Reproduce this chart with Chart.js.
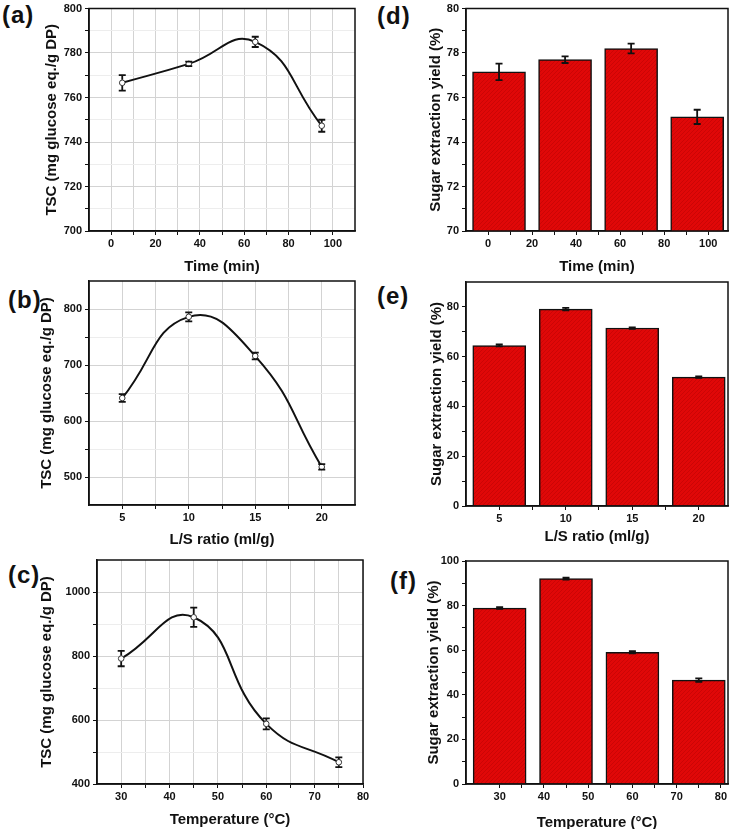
<!DOCTYPE html>
<html>
<head>
<meta charset="utf-8">
<title>TSC and sugar extraction yield</title>
<script src="https://cdn.jsdelivr.net/npm/chart.js@4.4.0/dist/chart.umd.min.js"></script>
<style>
  body { margin:0; width:734px; height:829px; overflow:hidden; background:#fff; position:relative; font-family:"Liberation Sans", Arial, sans-serif; }
  canvas { position:absolute; }
  .lbl { position:absolute; font-weight:bold; font-size:24px; line-height:1; color:#111; letter-spacing:1px; }
</style>
</head>
<body>
<div class="lbl" style="left:2px;top:3px">(a)</div>
<div class="lbl" style="left:8px;top:288px">(b)</div>
<div class="lbl" style="left:8px;top:563px">(c)</div>
<div class="lbl" style="left:377px;top:4px">(d)</div>
<div class="lbl" style="left:377px;top:284px">(e)</div>
<div class="lbl" style="left:390px;top:569px">(f)</div>

<canvas id="ca" width="375" height="278" style="left:0;top:0"></canvas>
<canvas id="cb" width="375" height="282" style="left:0;top:272px"></canvas>
<canvas id="cc" width="378" height="288" style="left:0;top:548px"></canvas>
<canvas id="cd" width="354" height="278" style="left:380px;top:0"></canvas>
<canvas id="ce" width="354" height="282" style="left:380px;top:272px"></canvas>
<canvas id="cf" width="354" height="288" style="left:380px;top:548px"></canvas>

<script>
// ---- data ----
// (a) TSC vs time
const aX = [5, 35, 65, 95];
const aY = [766.6, 775.1, 785.0, 747.3];
const aErr = [3.5, 1.0, 2.3, 2.7];
// (b) TSC vs L/S ratio
const bX = [5, 10, 15, 20];
const bY = [641, 786, 716, 518];
const bErr = [7, 8, 6, 5];
// (c) TSC vs temperature
const cX = [30, 45, 60, 75];
const cY = [792, 921, 588, 468];
const cErr = [24, 30, 17, 15];
// (d) yield vs time
const dX = [5, 35, 65, 95];
const dY = [77.15, 77.7, 78.2, 75.13];
const dErr = [0.37, 0.15, 0.22, 0.32];
// (e) yield vs L/S ratio
const eX = [5, 10, 15, 20];
const eY = [64.5, 79.1, 71.5, 51.8];
const eErr = [0.4, 0.5, 0.3, 0.3];
// (f) yield vs temperature
const fX = [30, 45, 60, 75];
const fY = [78.9, 92.1, 59.1, 46.6];
const fErr = [0.4, 0.4, 0.5, 0.8];

// tick labels (major) and minor ticks
const timeTicks = [0, 20, 40, 60, 80, 100], timeMinor = [10, 30, 50, 70, 90];
const lsTicks = [5, 10, 15, 20], lsMinor = [7.5, 12.5, 17.5];
const tempTicks = [30, 40, 50, 60, 70, 80], tempMinor = [35, 45, 55, 65, 75];
const aYTicks = [700, 720, 740, 760, 780, 800], aYMinor = [710, 730, 750, 770, 790];
const bYTicks = [500, 600, 700, 800], bYMinor = [550, 650, 750];
const cYTicks = [400, 600, 800, 1000], cYMinor = [500, 700, 900];
const dYTicks = [70, 72, 74, 76, 78, 80], dYMinor = [71, 73, 75, 77, 79];
const eYTicks = [0, 20, 40, 60, 80], eYMinor = [10, 30, 50, 70];
const fYTicks = [0, 20, 40, 60, 80, 100], fYMinor = [10, 30, 50, 70, 90];

const FONT = '"Liberation Sans", Arial, sans-serif';
const TSC = 'TSC (mg glucose eq./g DP)';
const YIELD = 'Sugar extraction yield (%)';

function hatch() {
  const c = document.createElement('canvas');
  c.width = 4; c.height = 4;
  const g = c.getContext('2d');
  g.fillStyle = '#e00808';
  g.fillRect(0, 0, 4, 4);
  g.strokeStyle = 'rgba(150,0,0,0.28)';
  g.lineWidth = 1;
  g.beginPath();
  g.moveTo(0, 4); g.lineTo(4, 0);
  g.moveTo(-1, 1); g.lineTo(1, -1);
  g.moveTo(3, 5); g.lineTo(5, 3);
  g.stroke();
  return g.createPattern(c, 'repeat');
}

function axis(min, max, major, minor, title, size, titlePad, isY, gridOn) {
  return {
    type: 'linear', min: min, max: max, offset: false,
    afterBuildTicks: s => {
      s.ticks = major.map(v => ({ value: v, major: true }))
        .concat(minor.map(v => ({ value: v, major: false })))
        .sort((p, q) => p.value - q.value);
    },
    afterFit: s => { if (isY) s.width = size; else s.height = size; },
    ticks: {
      autoSkip: false, maxRotation: 0, padding: 3, color: '#111',
      font: { family: FONT, size: 11, weight: 'bold', lineHeight: 1 },
      callback: (v, i, ts) => ts[i] && ts[i].major ? String(v) : ''
    },
    grid: {
      offset: false, drawOnChartArea: gridOn, tickLength: 4, tickColor: '#111', lineWidth: 1,
      color: c => (isY && c.tick && !c.tick.major) ? '#ededed' : '#d3d3d3'
    },
    border: { color: '#111', width: 1.5 },
    title: {
      display: true, text: title, color: '#111',
      font: { family: FONT, size: 15, weight: 'bold', lineHeight: 1 },
      padding: isY ? { top: titlePad } : { bottom: titlePad }
    }
  };
}

function errPlugin(errs, gap) {
  return {
    id: 'errbars',
    afterDatasetsDraw(chart) {
      const meta = chart.getDatasetMeta(0);
      const ys = chart.scales.y;
      const vals = chart.data.datasets[0].data;
      const ctx = chart.ctx;
      ctx.save();
      ctx.strokeStyle = '#111';
      ctx.lineWidth = 1.8;
      meta.data.forEach((el, i) => {
        const v = vals[i].y, e = errs[i];
        const x = el.x;
        const yc = ys.getPixelForValue(v);
        const y1 = ys.getPixelForValue(v + e), y2 = ys.getPixelForValue(v - e);
        ctx.beginPath();
        if (gap > 0) {
          if (yc - gap > y1) { ctx.moveTo(x, y1); ctx.lineTo(x, yc - gap); }
          if (yc + gap < y2) { ctx.moveTo(x, yc + gap); ctx.lineTo(x, y2); }
        } else {
          ctx.moveTo(x, y1); ctx.lineTo(x, y2);
        }
        ctx.moveTo(x - 3.5, y1); ctx.lineTo(x + 3.5, y1);
        ctx.moveTo(x - 3.5, y2); ctx.lineTo(x + 3.5, y2);
        ctx.stroke();
      });
      ctx.restore();
    },
    afterDraw(chart) {
      const a = chart.chartArea, ctx = chart.ctx;
      ctx.save();
      ctx.strokeStyle = '#111';
      ctx.lineWidth = 1.5;
      ctx.strokeRect(a.left, a.top, a.right - a.left, a.bottom - a.top);
      ctx.restore();
    }
  };
}

function panel(id, box, plot, kind, xs, ys, errs, xr, xMaj, xMin, xTitle, yr, yMaj, yMin, titles) {
  const pts = xs.map((x, i) => ({ x: x, y: ys[i] }));
  const line = kind === 'line';
  const ds = line ? {
    data: pts, borderColor: '#111', borderWidth: 2, tension: 0.48,
    pointRadius: 2.8, pointBackgroundColor: '#fff', pointBorderColor: '#333', pointBorderWidth: 1
  } : {
    data: pts, backgroundColor: hatch(), borderColor: '#111', borderWidth: 1.5, barThickness: 53
  };
  new Chart(document.getElementById(id), {
    type: kind,
    data: { datasets: [ds] },
    options: {
      responsive: false, animation: false, devicePixelRatio: 1,
      layout: { padding: { left: 0, top: plot.t - box.t, right: box.l + box.w - plot.r, bottom: 0 } },
      plugins: { legend: { display: false }, tooltip: { enabled: false } },
      scales: {
        x: axis(xr[0], xr[1], xMaj, xMin, xTitle, box.t + box.h - plot.b,
                box.t + box.h - titles.x - 7.5, false, line),
        y: axis(yr[0], yr[1], yMaj, yMin, titles.yText, plot.l - box.l,
                titles.y - box.l - 7.5, true, line)
      }
    },
    plugins: [errPlugin(errs, line ? 3 : 0)]
  });
}

panel('ca', { l: 0, t: 0, w: 375, h: 278 }, { l: 89, t: 7, r: 355, b: 231 }, 'line',
  aX, aY, aErr, [-10, 110], timeTicks, timeMinor, 'Time (min)',
  [700, 800], aYTicks, aYMinor, { x: 267, y: 52, yText: TSC });
panel('cb', { l: 0, t: 272, w: 375, h: 282 }, { l: 89, t: 281, r: 355, b: 505 }, 'line',
  bX, bY, bErr, [2.5, 22.5], lsTicks, lsMinor, 'L/S ratio (ml/g)',
  [450, 850], bYTicks, bYMinor, { x: 540, y: 47, yText: TSC });
panel('cc', { l: 0, t: 548, w: 378, h: 288 }, { l: 97, t: 560, r: 363, b: 784 }, 'line',
  cX, cY, cErr, [25, 80], tempTicks, tempMinor, 'Temperature (°C)',
  [400, 1100], cYTicks, cYMinor, { x: 820, y: 47, yText: TSC });
panel('cd', { l: 380, t: 0, w: 354, h: 278 }, { l: 466, t: 7, r: 728, b: 231 }, 'bar',
  dX, dY, dErr, [-10, 109], timeTicks, timeMinor, 'Time (min)',
  [70, 80], dYTicks, dYMinor, { x: 267, y: 436, yText: YIELD });
panel('ce', { l: 380, t: 272, w: 354, h: 282 }, { l: 466, t: 282, r: 728, b: 506 }, 'bar',
  eX, eY, eErr, [2.5, 22.2], lsTicks, lsMinor, 'L/S ratio (ml/g)',
  [0, 90], eYTicks, eYMinor, { x: 537, y: 437, yText: YIELD });
panel('cf', { l: 380, t: 548, w: 354, h: 288 }, { l: 466, t: 561, r: 728, b: 784 }, 'bar',
  fX, fY, fErr, [22.4, 81.6], tempTicks, tempMinor, 'Temperature (°C)',
  [0, 100], fYTicks, fYMinor, { x: 823, y: 434, yText: YIELD });
</script>
</body>
</html>
